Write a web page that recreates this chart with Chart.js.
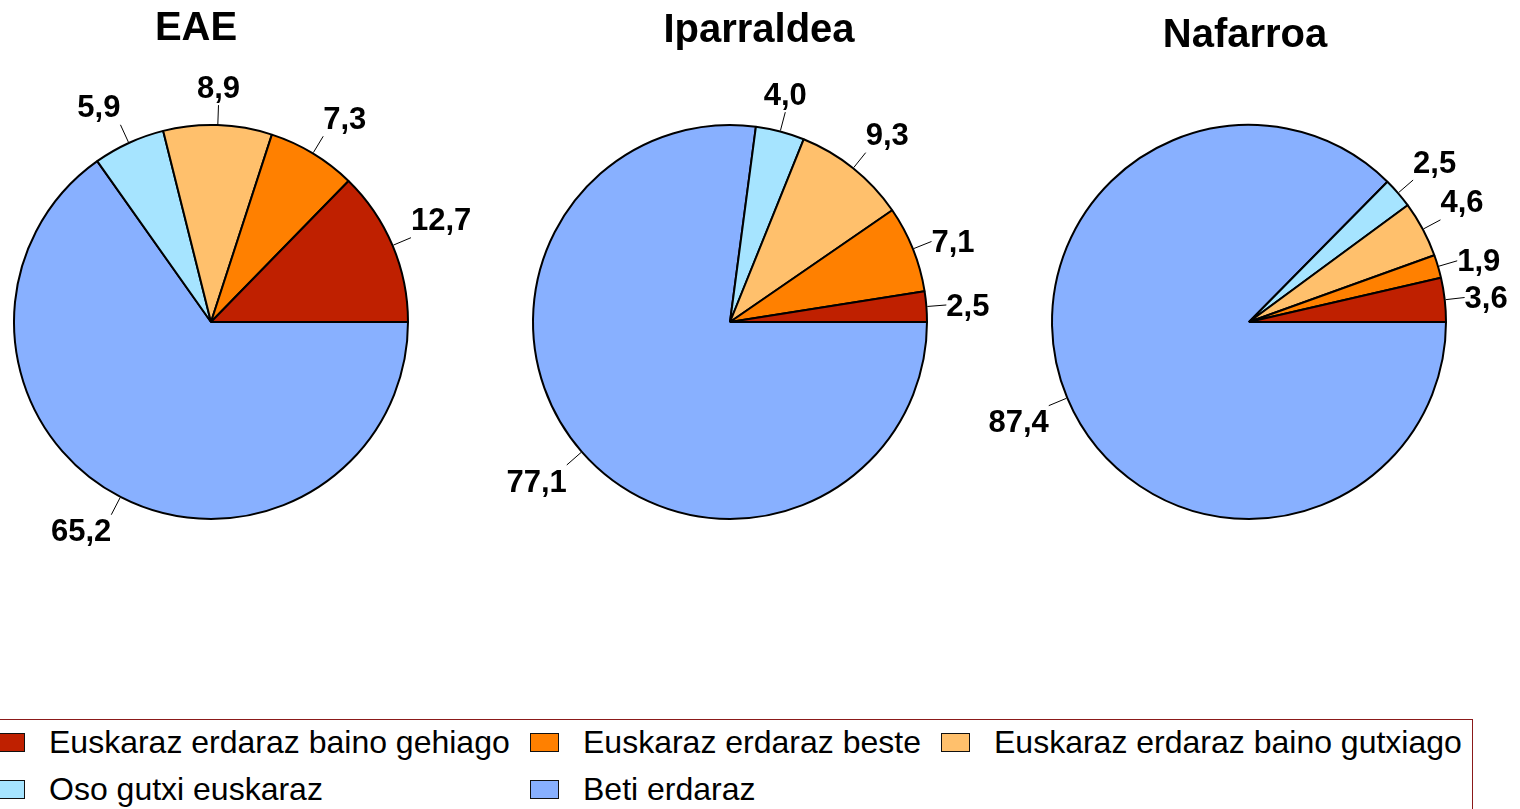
<!DOCTYPE html>
<html>
<head>
<meta charset="utf-8">
<script src="https://cdn.jsdelivr.net/npm/chart.js@4.4.1/dist/chart.umd.min.js"></script>
<style>
  html, body { margin: 0; padding: 0; background: #fff; overflow: hidden; }
  body { width: 1520px; height: 809px; position: relative; font-family: "Liberation Sans", Arial, sans-serif; }
  canvas.pie { position: absolute; top: 0; }
  #legendBox {
    position: absolute; left: -10px; top: 719px; width: 1483px; height: 140px;
    box-sizing: border-box; border: 1.5px solid #8b1a1a;
  }
  .lg-item { position: absolute; height: 40px; display: flex; align-items: center; white-space: nowrap; }
  .lg-swatch { width: 27px; height: 17px; border: 1.5px solid #111; margin-right: 24px; flex: none; }
  .lg-text { font-size: 32px; color: #000; }
</style>
</head>
<body>
<div id="legendBox"></div>
<canvas class="pie" id="pie0" width="560" height="600"></canvas>
<canvas class="pie" id="pie1" width="560" height="600"></canvas>
<canvas class="pie" id="pie2" width="560" height="600"></canvas>

<script>
// Categories (legend order) and colours
const categories = [
    'Euskaraz erdaraz baino gehiago',
    'Euskaraz erdaraz beste',
    'Euskaraz erdaraz baino gutxiago',
    'Oso gutxi euskaraz',
    'Beti erdaraz'
];
const sliceColors = ['#bf2000', '#ff8000', '#ffc06c', '#a6e4ff', '#88b0ff'];

// Regions and percentages
const regions = ['EAE', 'Iparraldea', 'Nafarroa'];
const eaeValues = [12.7, 7.3, 8.9, 5.9, 65.2];
const iparraldeaValues = [2.5, 7.1, 9.3, 4.0, 77.1];
const nafarroaValues = [3.6, 1.9, 4.6, 2.5, 87.4];
const regionValues = [eaeValues, iparraldeaValues, nafarroaValues];

// Layout (page coords)
const pieCentersX = [211, 730, 1249];
const pieCenterY = 322;
const pieRadius = 197;
const titleOffsets = [{ dx: -15, y: 40 }, { dx: 29, y: 42 }, { dx: -4, y: 47 }];
const legendCols = [-4, 530, 941];
const legendRows = [742, 789];

const CW = 560, CH = 600;

function fmt(v) {
    return v.toFixed(1).replace('.', ',');
}

// draws the outside value labels with short leader lines + the title
// labels are attached to the leader end by the compass side/corner facing the pie (Excel style)
const pieLabels = {
    id: 'pieLabels',
    afterDatasetsDraw(chart, args, opts) {
        const ctx = chart.ctx;
        const meta = chart.getDatasetMeta(0);
        const values = chart.data.datasets[0].data;
        ctx.save();
        ctx.font = 'bold 31px "Liberation Sans", Arial, sans-serif';
        ctx.fillStyle = '#000';
        ctx.strokeStyle = '#000';
        ctx.lineWidth = 1;
        const hh = 17; // half label box height
        meta.data.forEach(function(arc, i) {
            const p = arc.getProps(['x', 'y', 'startAngle', 'endAngle', 'outerRadius'], true);
            const mid = (p.startAngle + p.endAngle) / 2;
            const cs = Math.cos(mid), sn = Math.sin(mid);
            const R = p.outerRadius;
            const ax = p.x + cs * (R + 20), ay = p.y + sn * (R + 20);
            ctx.beginPath();
            ctx.moveTo(p.x + cs * (R + 1), p.y + sn * (R + 1));
            ctx.lineTo(ax, ay);
            ctx.stroke();

            const txt = fmt(values[i]);
            const w = ctx.measureText(txt).width;
            let deg = (-mid * 180 / Math.PI) % 360;
            if (deg < 0) deg += 360;
            const sector = Math.round(deg / 45) % 8;
            let tx = ax, ty = ay;
            if (sector === 0 || sector === 1 || sector === 7) tx = ax + w / 2;
            if (sector === 3 || sector === 4 || sector === 5) tx = ax - w / 2;
            if (sector >= 1 && sector <= 3) ty = ay - hh;
            if (sector >= 5 && sector <= 7) ty = ay + hh;
            if (sector === 0 || sector === 4) ty = ay + 1;
            ctx.textAlign = 'center';
            ctx.textBaseline = 'middle';
            ctx.fillText(txt, tx, ty + 1);
        });
        // title
        ctx.font = 'bold 40px "Liberation Sans", Arial, sans-serif';
        ctx.textAlign = 'center';
        ctx.textBaseline = 'alphabetic';
        ctx.fillText(opts.title, CW / 2 + opts.dx, opts.y);
        ctx.restore();
    }
};

regions.forEach(function(name, r) {
    const canvas = document.getElementById('pie' + r);
    canvas.style.left = (pieCentersX[r] - CW / 2) + 'px';
    // clockwise from 3 o'clock, so reverse to get the counter-clockwise order of the original
    const vals = regionValues[r].slice().reverse();
    const cols = sliceColors.slice().reverse();
    const labs = categories.slice().reverse();
    const side = pieRadius * 2 + 2;
    new Chart(canvas, {
        type: 'pie',
        data: {
            labels: labs,
            datasets: [{
                data: vals,
                backgroundColor: cols,
                borderColor: '#000',
                borderWidth: 2
            }]
        },
        options: {
            responsive: false,
            animation: false,
            devicePixelRatio: 1,
            rotation: 90,
            layout: {
                padding: {
                    left: CW / 2 - side / 2,
                    right: CW / 2 - side / 2,
                    top: pieCenterY - side / 2,
                    bottom: CH - pieCenterY - side / 2
                }
            },
            plugins: {
                legend: { display: false },
                tooltip: { enabled: false },
                pieLabels: { title: name, dx: titleOffsets[r].dx, y: titleOffsets[r].y }
            }
        },
        plugins: [pieLabels]
    });
});

// legend
categories.forEach(function(cat, i) {
    const item = document.createElement('div');
    item.className = 'lg-item';
    item.style.left = legendCols[i % 3] + 'px';
    item.style.top = (legendRows[Math.floor(i / 3)] - 20) + 'px';
    const sw = document.createElement('span');
    sw.className = 'lg-swatch';
    sw.style.background = sliceColors[i];
    const tx = document.createElement('span');
    tx.className = 'lg-text';
    tx.textContent = cat;
    item.appendChild(sw);
    item.appendChild(tx);
    document.body.appendChild(item);
});
</script>
</body>
</html>
